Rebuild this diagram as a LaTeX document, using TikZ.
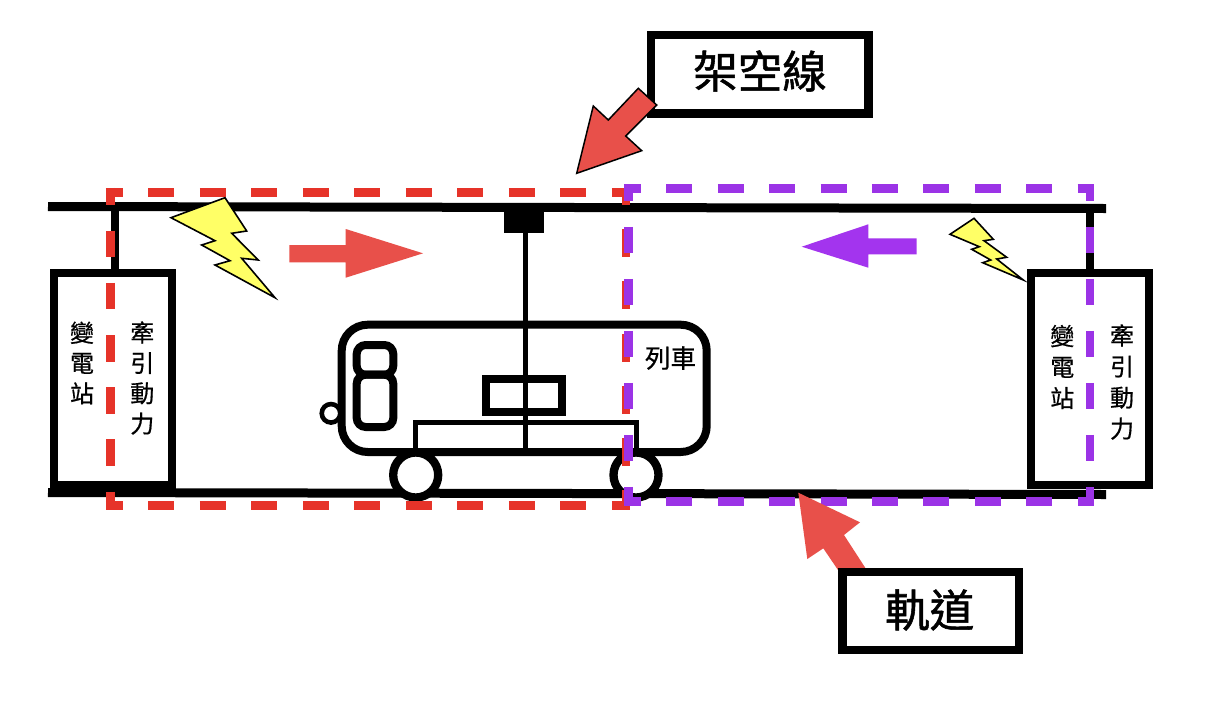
\documentclass[tikz,border=0pt]{standalone}
\usepackage{fontspec}
\setmainfont[FakeBold=0.6]{Noto Sans CJK TC}
\newfontfamily\bigcjk[FakeBold=1.2]{Noto Sans CJK TC}
\definecolor{dashred}{HTML}{E63329}
\definecolor{dashpurple}{HTML}{9B33E6}
\definecolor{arrowred}{HTML}{E8504A}
\definecolor{arrowpurple}{HTML}{A334EE}
\definecolor{boltyellow}{HTML}{FFFF66}
\tikzset{
  wire/.style={line width=9pt,black},
  feeder/.style={line width=8pt,black},
  stationbox/.style={draw=black,line width=8.4pt,fill=white,inner sep=0pt,outer sep=0pt,minimum width=118pt,minimum height=211.5pt},
  calloutbox/.style={draw=black,line width=8.4pt,fill=white,inner sep=0pt,outer sep=0pt},
  sidetext/.style={inner sep=0pt,align=center,font=\fontsize{24}{30.3}\selectfont},
  sidetextb/.style={inner sep=0pt,align=center,font=\fontsize{24}{31}\selectfont},
  bigtext/.style={inner sep=0pt,font=\bigcjk\fontsize{44.5}{50}\selectfont},
  redh/.style={line width=8.7pt,dashred,dash pattern=on 26pt off 25.5pt,dash phase=9pt},
  redv/.style={line width=8.7pt,dashred,dash pattern=on 26.5pt off 25.7pt,dash phase=9.5pt},
  purh/.style={line width=8.7pt,dashpurple,dash pattern=on 26pt off 25.4pt,dash phase=9pt},
  purv/.style={line width=8.7pt,dashpurple,dash pattern=on 26.3pt off 25.7pt,dash phase=9.3pt},
  bolt/.style={draw=black,fill=boltyellow,line width=1.6pt,miter limit=10},
  trainline/.style={draw=black,line width=8pt},
  thinline/.style={draw=black,line width=4.6pt},
  wheel/.style={circle,draw=black,line width=8.3pt,fill=white,inner sep=0pt,outer sep=0pt,minimum size=45pt},
  lamp/.style={circle,draw=black,line width=4.6pt,fill=white,inner sep=0pt,outer sep=0pt,minimum size=18.5pt},
}
\begin{document}
\begin{tikzpicture}[x=1pt,y=-1pt]
\useasboundingbox[fill=white] (0,0) rectangle (1212,726);

% wires
\coordinate (topL) at (48,206.5);
\coordinate (topR) at (1106,208.5);
\coordinate (botL) at (48,492.5);
\coordinate (botR) at (1106,494.5);
\draw[wire] (topL) -- (topR);
\draw[wire] (botL) -- (botR);

% substations
\coordinate (feedLtop) at (115,206.5);
\coordinate (feedRtop) at (1090,208.5);
\node[stationbox] (stationL) at (113,379) {};
\node[stationbox] (stationR) at (1090,379) {};
\draw[feeder] (feedLtop) -- (feedLtop |- stationL.north);
\draw[feeder] (feedRtop) -- (feedRtop |- stationR.north);
\node[sidetext] (tractionL) at (142.3,378) {牽\\引\\動\\力};
\node[sidetext] (substL) at (82,363) {變\\電\\站};
\node[sidetextb] (tractionR) at (1122,382) {牽\\引\\動\\力};
\node[sidetextb] (substR) at (1062.3,367) {變\\電\\站};

% train
\draw[trainline,rounded corners=26pt,fill=white] (341.7,324.7) rectangle (706.7,452);
\node[inner sep=0pt,outer sep=0pt,fill=black,minimum width=40.6pt,minimum height=24pt] (panto) at (524,220.7) {};
\coordinate (trainbase) at (525.7,452);
\draw[thinline] (panto.south -| trainbase) -- (trainbase);
\draw[trainline] (486.3,379) rectangle (562.3,411.7);
\draw[thinline] (415.7,452) -- (415.7,422.7) -- (636.5,422.7) -- (636.5,452);
\draw[trainline,rounded corners=9pt] (356.7,345) rectangle (393.3,374.7);
\draw[trainline,rounded corners=9pt] (356.7,374.7) rectangle (393.3,427);
\node[lamp] (lamp) at (331,413.3) {};
\node[wheel] (wheelL) at (415.7,475) {};
\node[wheel] (wheelR) at (636,475) {};
\node[inner sep=0pt,font=\fontsize{25.5}{28}\selectfont] (trainlabel) at (670.5,358) {列車};

% dashed loops
\draw[redh] (105.95,192.3) -- (630.35,192.3);
\draw[redh] (105.95,505.7) -- (630.35,505.7);
\draw[redv] (110.3,187.95) -- (110.3,510.05);
\draw[redv,dash pattern=on 28pt off 24.2pt,dash phase=11pt] (626,187.95) -- (626,510.05);
\draw[purh] (623.95,188.6) -- (1094.35,188.6);
\draw[purh] (623.95,501.7) -- (1094.35,501.7);
\draw[purv] (628.5,184.25) -- (628.5,506.05);
\draw[purv] (1090,184.25) -- (1090,506.05);

% lightning
\draw[bolt] (171,217.7) -- (225,197.7) -- (246.7,231) -- (231.7,233.3) -- (258.3,260) -- (241.7,258.3) -- (275,297.7) -- (215,265) -- (230,260.7) -- (201.7,245) -- (215,240.7) -- cycle;
\draw[bolt] (950,234.3) -- (974,218.3) -- (993.3,239.3) -- (984,240.7) -- (1006.7,257.3) -- (996.7,259) -- (1023.3,280) -- (982.7,262.7) -- (990.7,260) -- (971.7,249.3) -- (979.3,246.7) -- cycle;

% direction arrows
\fill[arrowred] (289.3,245) -- (345.7,245) -- (345.7,229) -- (423,253.3) -- (345.7,277.7) -- (345.7,262.3) -- (289.3,262.3) -- cycle;
\fill[arrowpurple] (916.7,238.3) -- (868.3,238.3) -- (868.3,224.3) -- (801.7,246.7) -- (868.3,267.7) -- (868.3,254.3) -- (916.7,254.3) -- cycle;

% callouts
\node[calloutbox,minimum width=217.6pt,minimum height=78.6pt] (overhead) at (759.7,74.2) {};
\node[bigtext] (overheadlabel) at (760,71) {架空線};
\draw[fill=arrowred,draw=black,line width=1.5pt,miter limit=10] (576.7,173.3) -- (593.3,106) -- (608.3,120) -- (638.3,88.3) -- (656.7,105) -- (625.7,136) -- (641.7,150.7) -- cycle;
\fill[arrowred] (798.3,492.7) -- (860,522.3) -- (844,535) -- (866.7,570) -- (838,570) -- (823.3,548.3) -- (807.3,559) -- cycle;
\node[calloutbox,minimum width=176.6pt,minimum height=78.2pt] (rail) at (930.8,611) {};
\node[bigtext] (raillabel) at (929.7,610) {軌道};
\end{tikzpicture}
\end{document}
